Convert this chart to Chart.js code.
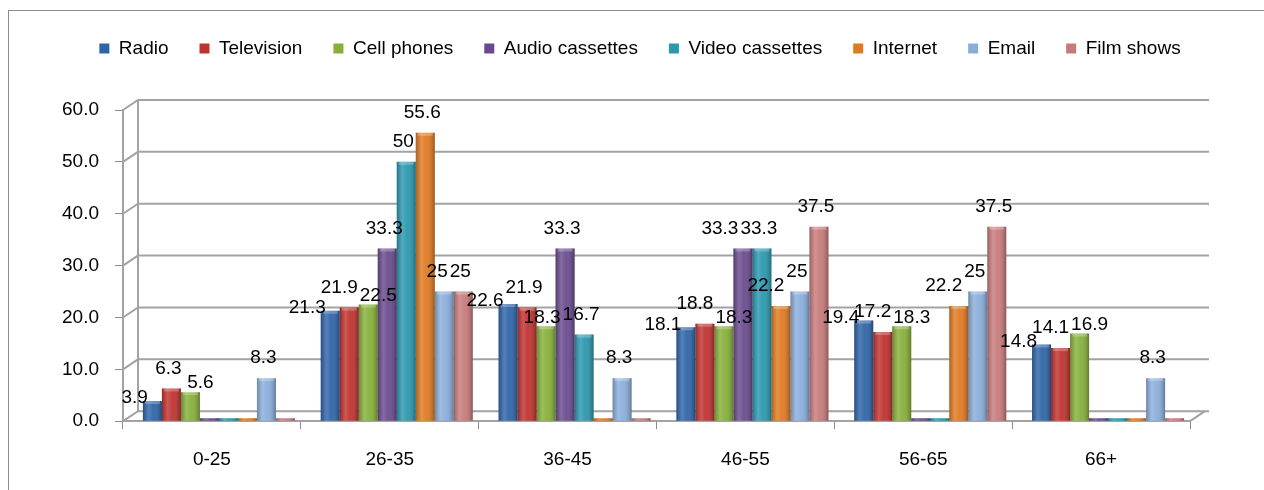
<!DOCTYPE html>
<html>
<head>
<meta charset="utf-8">
<script src="https://cdn.jsdelivr.net/npm/chart.js@4"></script>
<style>
  html, body { margin: 0; padding: 0; background: #fff; }
</style>
</head>
<body>
<canvas id="mediaChart" width="1264" height="490"></canvas>
<script>
const ageGroups = ["0-25", "26-35", "36-45", "46-55", "56-65", "66+"];
const seriesNames = ["Radio", "Television", "Cell phones", "Audio cassettes", "Video cassettes", "Internet", "Email", "Film shows"];
const radio = [3.9, 21.3, 22.6, 18.1, 19.4, 14.8];
const television = [6.3, 21.9, 21.9, 18.8, 17.2, 14.1];
const cellPhones = [5.6, 22.5, 18.3, 18.3, 18.3, 16.9];
const audioCassettes = [0, 33.3, 33.3, 33.3, 0, 0];
const videoCassettes = [0, 50, 16.7, 33.3, 0, 0];
const internet = [0, 55.6, 0, 22.2, 22.2, 0];
const email = [8.3, 25, 8.3, 25, 25, 8.3];
const filmShows = [0, 25, 0, 37.5, 37.5, 0];
const yTicks = [0, 10, 20, 30, 40, 50, 60];

const seriesValues = [radio, television, cellPhones, audioCassettes, videoCassettes, internet, email, filmShows];
const seriesColors = ["#2e64a8", "#c0322f", "#86b03a", "#6a4a8e", "#2a98ae", "#e07a22", "#8aaedc", "#c87a7a"];
// where each series puts its value label relative to the bar top
const labelSpots = ["left", "top", "right", "top", "top", "top", "top", "top"];

// fake 3D depth of the plot box
const DEPTH_X = 15;
const DEPTH_Y = 10;
const BAR_SHIFT = 7;
const LEGEND_SHIFT = 38;
const FONT = "19px 'Liberation Sans', Arial, sans-serif";

Chart.defaults.font.family = "'Liberation Sans', Arial, sans-serif";
Chart.defaults.font.size = 19;
Chart.defaults.color = "#000";

// outer frame of the chart object
const frame = {
  id: "frame",
  beforeDraw(chart) {
    const c = chart.ctx;
    c.save();
    c.strokeStyle = "#8c8c8c";
    c.lineWidth = 1;
    c.strokeRect(8.5, 10.5, chart.width + 20, chart.height + 20);
    c.restore();
  }
};

// back wall, side wall and floor lines, then bar shading and value labels
const walls = {
  id: "walls",
  beforeDatasetsDraw(chart) {
    const c = chart.ctx;
    const y = chart.scales.y;
    const a = chart.chartArea;
    c.save();
    c.strokeStyle = "#a3a3a3";
    c.lineWidth = 2;
    yTicks.forEach((v) => {
      const py = y.getPixelForValue(v);
      c.beginPath();
      c.moveTo(a.left, py);
      c.lineTo(a.left + DEPTH_X, py - DEPTH_Y);
      c.lineTo(a.right + DEPTH_X + 4, py - DEPTH_Y);
      c.stroke();
    });
    c.beginPath();
    c.moveTo(a.left + DEPTH_X, y.getPixelForValue(60) - DEPTH_Y);
    c.lineTo(a.left + DEPTH_X, a.bottom - DEPTH_Y);
    c.moveTo(a.right, a.bottom);
    c.lineTo(a.right + DEPTH_X, a.bottom - DEPTH_Y);
    c.stroke();
    c.restore();

    c.save();
    c.translate(BAR_SHIFT, 0);
  },
  afterDatasetsDraw(chart) {
    const c = chart.ctx;
    c.restore();

    c.save();
    c.translate(BAR_SHIFT, 0);
    chart.data.datasets.forEach((ds, di) => {
      chart.getDatasetMeta(di).data.forEach((bar) => {
        const left = bar.x - bar.width / 2;
        const h = bar.base - bar.y;
        const g = c.createLinearGradient(left, 0, left + bar.width, 0);
        g.addColorStop(0, "rgba(0,0,0,0.22)");
        g.addColorStop(0.3, "rgba(255,255,255,0.18)");
        g.addColorStop(0.55, "rgba(255,255,255,0.05)");
        g.addColorStop(1, "rgba(0,0,0,0.30)");
        c.fillStyle = g;
        c.fillRect(left, bar.y, bar.width, h);
        if (h > 6) {
          c.fillStyle = "rgba(255,255,255,0.25)";
          c.fillRect(left + 2, bar.y, bar.width - 4, 3);
        }
      });
    });

    // value labels, nudging earlier labels left when two collide
    c.fillStyle = "#000";
    c.font = FONT;
    c.textBaseline = "middle";
    c.textAlign = "left";
    ageGroups.forEach((g, i) => {
      const placed = [];
      chart.data.datasets.forEach((ds, di) => {
        const v = ds.data[i];
        if (!v) return;
        const bar = chart.getDatasetMeta(di).data[i];
        const text = String(v);
        const w = c.measureText(text).width;
        const spot = labelSpots[di];
        let left, ty;
        if (spot === "left") {
          left = bar.x - bar.width / 2 + 5 - w;
          ty = bar.y - 3;
        } else if (spot === "right") {
          left = bar.x + 10 - w / 2;
          ty = bar.y - 9;
        } else {
          left = bar.x - 3 - w / 2;
          ty = bar.y - 20;
        }
        const r = { text, left, w, ty };
        placed.forEach((p) => {
          const overlapX = p.left + p.w - r.left;
          if (overlapX > 0 && p.left < r.left + r.w && Math.abs(p.ty - r.ty) < 15) {
            p.left -= overlapX + 2;
          }
        });
        placed.push(r);
      });
      placed.forEach((p) => c.fillText(p.text, p.left, p.ty));
    });
    c.restore();
  }
};

// extra room under the legend, and the legend row sits a little right of centre
const legendGap = {
  id: "legendGap",
  beforeInit(chart) {
    const fit = chart.legend.fit;
    chart.legend.fit = function () {
      fit.call(this);
      this.height += 42;
    };
  },
  afterLayout(chart) {
    chart.legend.left += LEGEND_SHIFT;
    chart.legend.right += LEGEND_SHIFT;
  }
};

const ctx = document.getElementById("mediaChart").getContext("2d");
const chart = new Chart(ctx, {
  type: "bar",
  data: {
    labels: ageGroups,
    datasets: seriesNames.map((name, i) => ({
      label: name,
      data: seriesValues[i],
      backgroundColor: seriesColors[i],
      borderWidth: 0,
      minBarLength: 3,
      categoryPercentage: 0.855,
      barPercentage: 1
    }))
  },
  options: {
    responsive: false,
    animation: false,
    layout: { padding: { left: 14, right: 74, top: 8, bottom: 0 } },
    plugins: {
      legend: {
        position: "top",
        labels: { boxWidth: 10, boxHeight: 10, padding: 31, color: "#000" }
      },
      tooltip: { enabled: false }
    },
    scales: {
      x: {
        grid: { drawOnChartArea: false, tickLength: 8, color: "#8c8c8c", tickColor: "#8c8c8c" },
        border: { color: "#a3a3a3", width: 2 },
        ticks: { padding: 19 }
      },
      y: {
        min: 0,
        max: 60,
        afterFit(scale) { scale.width = 109; },
        afterBuildTicks(scale) { scale.ticks = yTicks.map((v) => ({ value: v })); },
        grid: { drawOnChartArea: false, tickLength: 8, tickColor: "#8c8c8c" },
        border: { color: "#a3a3a3", width: 2 },
        ticks: { padding: 16, callback: (v) => Number(v).toFixed(1) }
      }
    }
  },
  plugins: [frame, legendGap, walls]
});
</script>
</body>
</html>
